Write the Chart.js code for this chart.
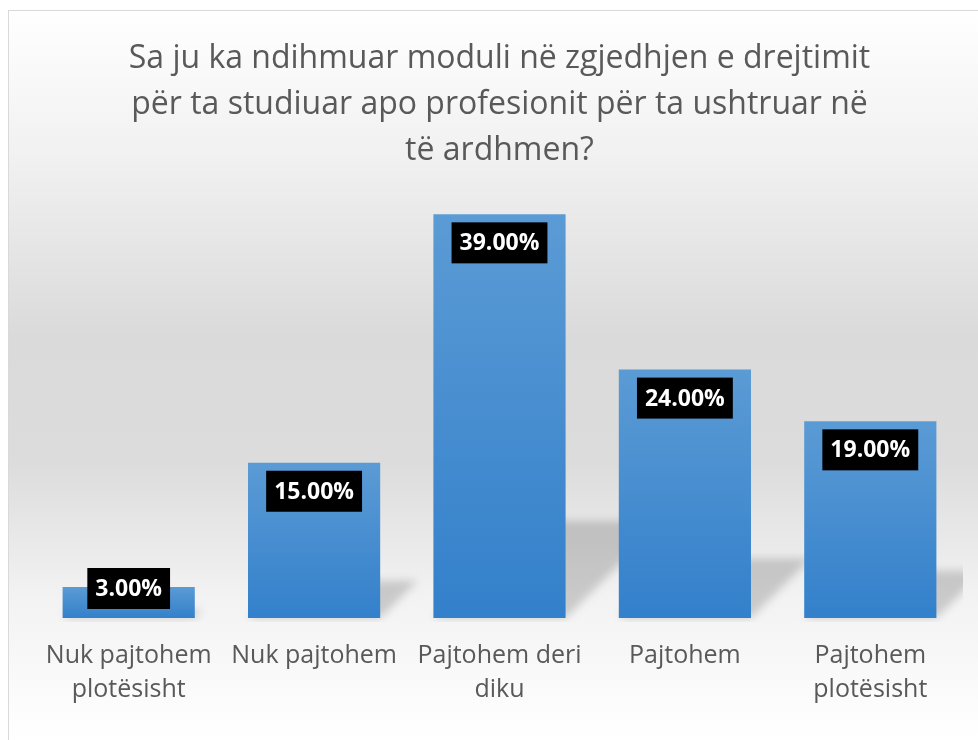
<!DOCTYPE html>
<html>
<head>
<meta charset="utf-8">
<script src="https://cdn.jsdelivr.net/npm/chart.js@4"></script>
<style>
  html, body { margin: 0; padding: 0; background: #fff; overflow: hidden; }
  #wrap { position: absolute; left: 0; top: 0; width: 978px; height: 740px; }
</style>
</head>
<body>
<div id="wrap"><canvas id="chart" width="978" height="740"></canvas></div>
<script>
// ─── Data ─────────────────────────────────────
const titleLines = [
  'Sa ju ka ndihmuar moduli në zgjedhjen e drejtimit',
  'për ta studiuar apo profesionit për ta ushtruar në',
  'të ardhmen?'
];
const categories = [
  ['Nuk pajtohem', 'plotësisht'],
  'Nuk pajtohem',
  ['Pajtohem deri', 'diku'],
  'Pajtohem',
  ['Pajtohem', 'plotësisht']
];
const shares = [3, 15, 39, 24, 19];

const FONT = "'Open Sans', sans-serif";
const TEXT = '#595959';

// ─── Frame + background gradient ──────────────
const backdrop = {
  id: 'backdrop',
  beforeDraw(chart) {
    const { ctx, width, height } = chart;
    ctx.save();
    ctx.fillStyle = '#ffffff';
    ctx.fillRect(0, 0, width, height);
    const g = ctx.createLinearGradient(0, 10, 0, height);
    g.addColorStop(0, '#ffffff');
    g.addColorStop(0.2, '#f1f1f1');
    g.addColorStop(0.45, '#dadada');
    g.addColorStop(0.62, '#dcdcdc');
    g.addColorStop(0.8, '#f2f2f2');
    g.addColorStop(1, '#ffffff');
    ctx.fillStyle = g;
    ctx.fillRect(9, 11, width, height);
    ctx.strokeStyle = '#d9d9d9';
    ctx.lineWidth = 1;
    ctx.strokeRect(8.5, 10.5, width + 10, height + 10);
    ctx.restore();
  }
};

// ─── Perspective shadows behind the bars ──────
const barShadows = {
  id: 'barShadows',
  beforeDatasetsDraw(chart) {
    const { ctx, chartArea } = chart;
    const meta = chart.getDatasetMeta(0);
    ctx.save();
    ctx.beginPath();
    ctx.rect(chartArea.left, chartArea.top, chartArea.right - chartArea.left, chartArea.bottom - chartArea.top + 4);
    ctx.clip();
    ctx.filter = 'blur(4px)';
    ctx.fillStyle = 'rgba(0,0,0,0.17)';
    meta.data.forEach(bar => {
      const x0 = bar.x - bar.width / 2, x1 = bar.x + bar.width / 2;
      const sh = (bar.base - bar.y) * 0.24;
      ctx.beginPath();
      ctx.moveTo(x0, bar.base);
      ctx.lineTo(x1, bar.base);
      ctx.lineTo(x1 + sh, bar.base - sh);
      ctx.lineTo(x0 + sh, bar.base - sh);
      ctx.closePath();
      ctx.fill();
    });
    ctx.restore();
  }
};

// ─── Black value boxes ────────────────────────
const valueBoxes = {
  id: 'valueBoxes',
  afterDatasetsDraw(chart) {
    const { ctx } = chart;
    const meta = chart.getDatasetMeta(0);
    ctx.save();
    ctx.font = `bold 23px ${FONT}`;
    ctx.textAlign = 'center';
    ctx.textBaseline = 'middle';
    meta.data.forEach((bar, i) => {
      const txt = shares[i].toFixed(2) + '%';
      const w = ctx.measureText(txt).width + 16, h = 41;
      const cy = Math.min(bar.y + 28.5, bar.base - 9 - h / 2);
      ctx.fillStyle = '#000';
      ctx.fillRect(bar.x - w / 2, cy - h / 2, w, h);
      ctx.fillStyle = '#fff';
      ctx.fillText(txt, bar.x, cy + 1);
    });
    ctx.restore();
  }
};

function barFill(c) {
  const chart = c.chart;
  if (!chart.chartArea) return '#4a8fd4';
  const y = chart.scales.y;
  const top = y.getPixelForValue(shares[c.dataIndex]);
  const base = y.getPixelForValue(0);
  const g = chart.ctx.createLinearGradient(0, top, 0, base);
  g.addColorStop(0, '#5b9bd5');
  g.addColorStop(1, '#3380cb');
  return g;
}

new Chart(document.getElementById('chart'), {
  type: 'bar',
  data: {
    labels: categories,
    datasets: [{
      data: shares,
      backgroundColor: barFill,
      borderWidth: 0,
      barPercentage: 1,
      categoryPercentage: 0.713
    }]
  },
  options: {
    responsive: false,
    animation: false,
    layout: { padding: { left: 36, right: 15, top: 0, bottom: 0 } },
    plugins: {
      legend: { display: false },
      tooltip: { enabled: false },
      title: {
        display: true,
        text: titleLines,
        color: TEXT,
        font: { family: FONT, size: 32, weight: 'normal', lineHeight: '46px' },
        padding: { top: 36, bottom: 30 }
      }
    },
    scales: {
      x: {
        grid: { display: false, drawTicks: false },
        border: { display: false },
        ticks: {
          color: TEXT,
          padding: 21,
          maxRotation: 0,
          autoSkip: false,
          font: { family: FONT, size: 25, lineHeight: '34px' }
        },
        afterFit(s) { s.height = 122; }
      },
      y: { display: false, min: 0, max: 40 }
    }
  },
  plugins: [backdrop, barShadows, valueBoxes]
});
</script>
</body>
</html>
